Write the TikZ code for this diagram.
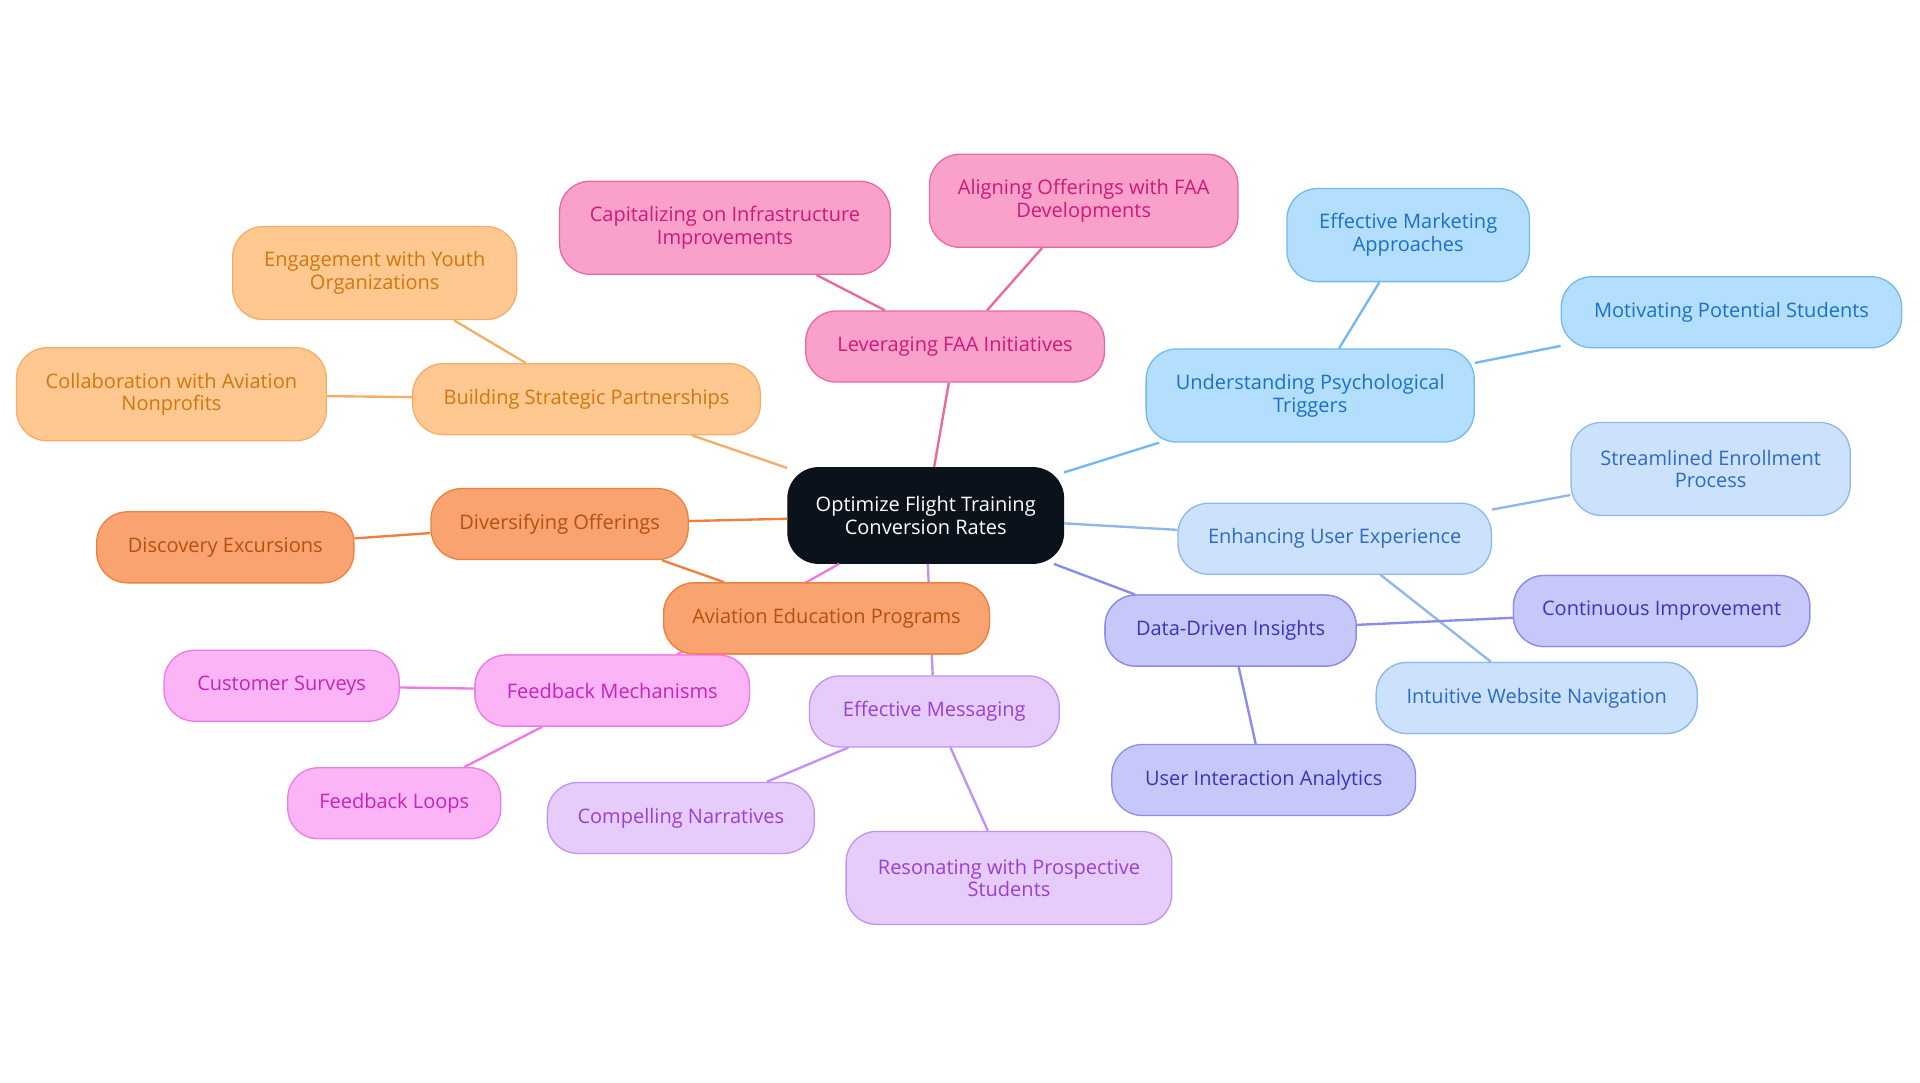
\documentclass[tikz,border=0pt]{standalone}
\usepackage{fontspec}
\setmainfont{Open Sans}
\definecolor{rootfill}{HTML}{0B121B}
\definecolor{pinkfill}{HTML}{F9A1CA}\definecolor{pinkline}{HTML}{E8689F}\definecolor{pinktext}{HTML}{D0177A}
\definecolor{bluefill}{HTML}{B3DEFD}\definecolor{blueline}{HTML}{74B9EE}\definecolor{bluetext}{HTML}{1A72C4}
\definecolor{lbluefill}{HTML}{CCE1FB}\definecolor{lblueline}{HTML}{8DB8EC}\definecolor{lbluetext}{HTML}{2C6CC0}
\definecolor{violfill}{HTML}{C7C8FA}\definecolor{violline}{HTML}{8A8CEB}\definecolor{violtext}{HTML}{3A35B5}
\definecolor{lavfill}{HTML}{E6CCFA}\definecolor{lavline}{HTML}{C192F0}\definecolor{lavtext}{HTML}{9A40D0}
\definecolor{magfill}{HTML}{FBB4F5}\definecolor{magline}{HTML}{EE7BE5}\definecolor{magtext}{HTML}{C723BD}
\definecolor{orfill}{HTML}{F9A470}\definecolor{orline}{HTML}{EE8040}\definecolor{ortext}{HTML}{B5500E}
\definecolor{lorfill}{HTML}{FEC890}\definecolor{lorline}{HTML}{F5AE68}\definecolor{lortext}{HTML}{D0780E}
\tikzset{
	topic/.style={rounded corners=0.5cm, align=center, inner sep=0pt, line width=0.6pt, font=\fontsize{9.3}{10.6}\selectfont},
	bx/.style 2 args={minimum width=#1*0.02cm, minimum height=#2*0.02cm},
	pinkbox/.style={topic, fill=pinkfill, draw=pinkline, text=pinktext},
	bluebox/.style={topic, fill=bluefill, draw=blueline, text=bluetext},
	lbluebox/.style={topic, fill=lbluefill, draw=lblueline, text=lbluetext},
	violbox/.style={topic, fill=violfill, draw=violline, text=violtext},
	lavbox/.style={topic, fill=lavfill, draw=lavline, text=lavtext},
	magbox/.style={topic, fill=magfill, draw=magline, text=magtext},
	orbox/.style={topic, fill=orfill, draw=orline, text=ortext},
	lorbox/.style={topic, fill=lorfill, draw=lorline, text=lortext},
	link/.style={line width=1.1pt}
}
\begin{document}
\begin{tikzpicture}[x=0.02cm, y=-0.02cm]
	\useasboundingbox (0,0) rectangle (1568,884);
	
	\node[topic, fill=rootfill, draw=rootfill, text=white, bx={225}{78}] (root) at (756,421) {Optimize Flight Training\\Conversion Rates};
	
	\node[pinkbox, bx={244}{58}] (faa) at (780,283) {Leveraging FAA Initiatives};
	\node[pinkbox, bx={270}{76}] (infra) at (592,186) {Capitalizing on Infrastructure\\Improvements};
	\node[pinkbox, bx={252}{76}] (align) at (885,164) {Aligning Offerings with FAA\\Developments};
	
	\node[bluebox, bx={268}{76}] (psych) at (1070,323) {Understanding Psychological\\Triggers};
	\node[bluebox, bx={198}{76}] (market) at (1150,192) {Effective Marketing\\Approaches};
	\node[bluebox, bx={278}{58}] (motiv) at (1414,255) {Motivating Potential Students};
	
	\node[lbluebox, bx={256}{58}] (ux) at (1090,440) {Enhancing User Experience};
	\node[lbluebox, bx={228}{76}] (enrol) at (1397,383) {Streamlined Enrollment\\Process};
	\node[lbluebox, bx={262}{58}] (nav) at (1255,570) {Intuitive Website Navigation};
	
	\node[violbox, bx={205}{58}] (data) at (1005,515) {Data-Driven Insights};
	\node[violbox, bx={242}{58}] (improve) at (1357,499) {Continuous Improvement};
	\node[violbox, bx={248}{58}] (analytics) at (1032,637) {User Interaction Analytics};
	
	\node[lavbox, bx={204}{58}] (msg) at (763,581) {Effective Messaging};
	\node[lavbox, bx={218}{58}] (narr) at (556,668) {Compelling Narratives};
	\node[lavbox, bx={266}{76}] (reson) at (824,717) {Resonating with Prospective\\Students};
	
	\node[magbox, bx={224}{58}] (fback) at (500,564) {Feedback Mechanisms};
	\node[magbox, bx={192}{58}] (survey) at (230,560) {Customer Surveys};
	\node[magbox, bx={174}{58}] (loops) at (322,656) {Feedback Loops};
	
	\node[orbox, bx={210}{58}] (divers) at (457,428) {Diversifying Offerings};
	\node[orbox, bx={210}{58}] (disc) at (184,447) {Discovery Excursions};
	\node[orbox, bx={266}{58}] (edu) at (675,505) {Aviation Education Programs};
	
	\node[lorbox, bx={284}{58}] (partner) at (479,326) {Building Strategic Partnerships};
	\node[lorbox, bx={232}{76}] (youth) at (306,223) {Engagement with Youth\\Organizations};
	\node[lorbox, bx={253}{76}] (nonprof) at (140,322) {Collaboration with Aviation\\Nonprofits};
	
	% connectors
	\draw[link, pinkline] (root) -- (faa) (faa) -- (infra) (faa) -- (align);
	\draw[link, blueline] (root) -- (psych) (psych) -- (market) (psych) -- (motiv);
	\draw[link, lblueline] (root) -- (ux) (ux) -- (enrol) (ux) -- (nav);
	\draw[link, violline] (root) -- (data) (data) -- (improve) (data) -- (analytics);
	\draw[link, lavline] (root) -- (msg) (msg) -- (narr) (msg) -- (reson);
	\draw[link, magline] (root) -- (fback) (fback) -- (survey) (fback) -- (loops);
	\draw[link, orline] (root) -- (divers) (divers) -- (disc) (divers) -- (edu);
	\draw[link, lorline] (root) -- (partner) (partner) -- (youth) (partner) -- (nonprof);
	
	% boxes that the connectors cross, drawn again on top
	\node[orbox, bx={266}{58}] at (edu) {Aviation Education Programs};
	\node[magbox, bx={224}{58}] at (fback) {Feedback Mechanisms};
	\node[lbluebox, bx={262}{58}] at (nav) {Intuitive Website Navigation};
	\node[violbox, bx={205}{58}] at (data) {Data-Driven Insights};
	\node[violbox, bx={242}{58}] at (improve) {Continuous Improvement};
\end{tikzpicture}
\end{document}
